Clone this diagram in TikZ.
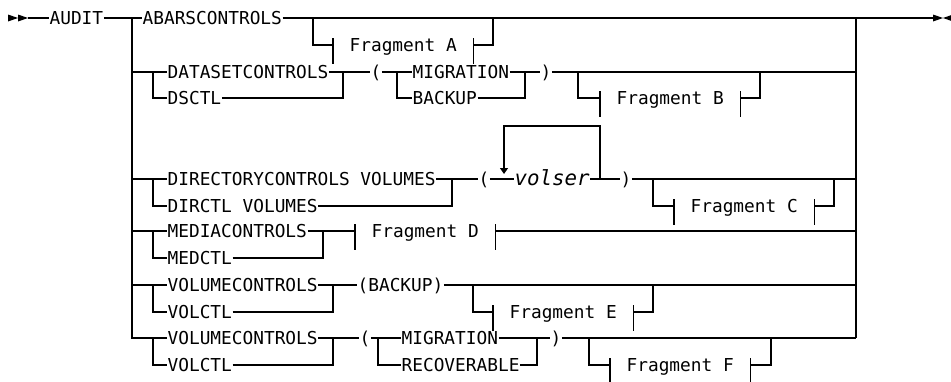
\documentclass[tikz,border=0pt]{standalone}
\usepackage{fontspec}
\setmonofont{DejaVu Sans Mono}
\usetikzlibrary{arrows.meta,calc,positioning}
\tikzset{
  rail/.style={line width=0.6pt},
  kw/.style={anchor=west,inner sep=0pt,text height=6.5pt,text depth=0pt,
    font=\ttfamily\fontsize{8.9}{10}\selectfont},
  var/.style={kw,font=\ttfamily\itshape\fontsize{10.4}{12}\selectfont},
  frag/.style={kw,inner xsep=8pt},
  backtip/.style={-{Triangle[length=3pt,width=4pt]}}
}
\newcommand{\fragbar}[1]{\draw (#1.west) ++(0,-7) -- ++(0,26) (#1.east) ++(0,-7) -- ++(0,26);}

\begin{document}
\begin{tikzpicture}[x=0.5pt,y=-0.5pt,rail]
  \clip (0,0) rectangle (951,381);

  % start and end marks
  \fill (8,14.5) -- (18,18) -- (8,21.5) -- cycle (18,14.5) -- (28,18) -- (18,21.5) -- cycle;
  \fill (933,14.5) -- (943,18) -- (933,21.5) -- cycle (953,14.5) -- (943,18) -- (953,21.5) -- cycle;

  \coordinate (start) at (28,18);
  \coordinate (finish) at (933,18);
  \coordinate (barL) at (132,18);
  \coordinate (subL) at (153,18);
  \coordinate (barR) at (856,18);

  % keywords
  \node[kw] (audit) at (49,18) {AUDIT};
  \node[kw] (abars) at (142,18) {ABARSCONTROLS};
  \node[frag] (fragA) at (333,45) {Fragment A};

  \node[kw] (dataset) at (167,72) {DATASETCONTROLS};
  \node[kw] (dsctl) at (167,98) {DSCTL};
  \node[kw] (lpB) at (370,72) {(};
  \node[kw] (migB) at (412,72) {MIGRATION};
  \node[kw] (backB) at (412,98) {BACKUP};
  \node[kw] (rpB) at (540,72) {)};
  \node[frag] (fragB) at (600,98) {Fragment B};

  \node[kw] (dirc) at (167,179) {DIRECTORYCONTROLS VOLUMES};
  \node[kw] (dirctl) at (167,206) {DIRCTL VOLUMES};
  \node[kw] (lpC) at (478,179) {(};
  \node[var] (volser) at (514,179) {volser};
  \node[kw] (rpC) at (620,179) {)};
  \node[frag] (fragC) at (674,206) {Fragment C};

  \node[kw] (media) at (167,231) {MEDIACONTROLS};
  \node[kw] (medctl) at (167,258) {MEDCTL};
  \node[frag] (fragD) at (355,231) {Fragment D};

  \node[kw] (volc1) at (167,285) {VOLUMECONTROLS};
  \node[kw] (volctl1) at (167,312) {VOLCTL};
  \node[kw] (backE) at (357,285) {(BACKUP)};
  \node[frag] (fragE) at (493,312) {Fragment E};

  \node[kw] (volc2) at (167,338) {VOLUMECONTROLS};
  \node[kw] (volctl2) at (167,365) {VOLCTL};
  \node[kw] (lpF) at (359,338) {(};
  \node[kw] (migF) at (401,338) {MIGRATION};
  \node[kw] (recF) at (401,365) {RECOVERABLE};
  \node[kw] (rpF) at (550,338) {)};
  \node[frag] (fragF) at (610,365) {Fragment F};

  % main line and the two bars
  \draw (start) -- (audit.west) (audit.east) -- (abars.west) (abars.east) -- (finish);
  \draw (barL) |- (volc2.west);
  \draw (barR) -- (barR |- volc2.west);

  % ABARSCONTROLS
  \coordinate (aIn) at (313,18);
  \coordinate (aOut) at (493,18);
  \draw (aIn) |- (fragA.west) (fragA.east) -| (aOut);

  % DATASETCONTROLS
  \coordinate (bJ) at (343,72);
  \coordinate (bS) at (397,72);
  \coordinate (bE) at (525,72);
  \coordinate (bIn) at (578,72);
  \coordinate (bOut) at (760,72);
  \draw (barL |- dataset.west) -- (dataset.west);
  \draw (subL |- dataset.west) |- (dsctl.west);
  \draw (dataset.east) -- (lpB.west) (lpB.east) -- (migB.west) (migB.east) -- (rpB.west);
  \draw (dsctl.east) -| (bJ);
  \draw (bS) |- (backB.west) (backB.east) -| (bE);
  \draw (rpB.east) -- (rpB.east -| barR);
  \draw (bIn) |- (fragB.west) (fragB.east) -| (bOut);

  % DIRECTORYCONTROLS
  \coordinate (cJ) at (452,179);
  \coordinate (loopL) at (504,179);
  \coordinate (loopR) at (600,179);
  \coordinate (cIn) at (653,179);
  \coordinate (cOut) at (834,179);
  \draw (barL |- dirc.west) -- (dirc.west);
  \draw (subL |- dirc.west) |- (dirctl.west);
  \draw (dirc.east) -- (lpC.west) (lpC.east) -- (volser.west) (volser.east) -- (rpC.west);
  \draw (rpC.east) -- (rpC.east -| barR);
  \draw (dirctl.east) -| (cJ);
  \draw[backtip] (loopR) -- ++(0,-53) -| ([yshift=2.5pt]loopL);
  \draw (cIn) |- (fragC.west) (fragC.east) -| (cOut);

  % MEDIACONTROLS
  \coordinate (dJ) at (323,231);
  \draw (barL |- media.west) -- (media.west);
  \draw (subL |- media.west) |- (medctl.west);
  \draw (media.east) -- (fragD.west) (medctl.east) -| (dJ);
  \draw (fragD.east) -- (fragD.east -| barR);

  % VOLUMECONTROLS (BACKUP)
  \coordinate (eJ) at (333,285);
  \coordinate (eIn) at (473,285);
  \coordinate (eOut) at (653,285);
  \draw (barL |- volc1.west) -- (volc1.west);
  \draw (subL |- volc1.west) |- (volctl1.west);
  \draw (volc1.east) -- (backE.west) (volctl1.east) -| (eJ);
  \draw (backE.east) -- (backE.east -| barR);
  \draw (eIn) |- (fragE.west) (fragE.east) -| (eOut);

  % VOLUMECONTROLS (MIGRATION|RECOVERABLE)
  \coordinate (fJ) at (333,338);
  \coordinate (fS) at (378,338);
  \coordinate (fE) at (537,338);
  \coordinate (fIn) at (589,338);
  \coordinate (fOut) at (771,338);
  \draw (subL |- volc2.west) |- (volctl2.west);
  \draw (volc2.east) -- (lpF.west) (volctl2.east) -| (fJ);
  \draw (lpF.east) -- (migF.west) (migF.east) -- (rpF.west) (rpF.east) -- (rpF.east -| barR);
  \draw (fS) |- (recF.west) (recF.east) -| (fE);
  \draw (fIn) |- (fragF.west) (fragF.east) -| (fOut);

  % fragment ticks
  \fragbar{fragA}
  \fragbar{fragB}
  \fragbar{fragC}
  \fragbar{fragD}
  \fragbar{fragE}
  \fragbar{fragF}
\end{tikzpicture}
\end{document}
